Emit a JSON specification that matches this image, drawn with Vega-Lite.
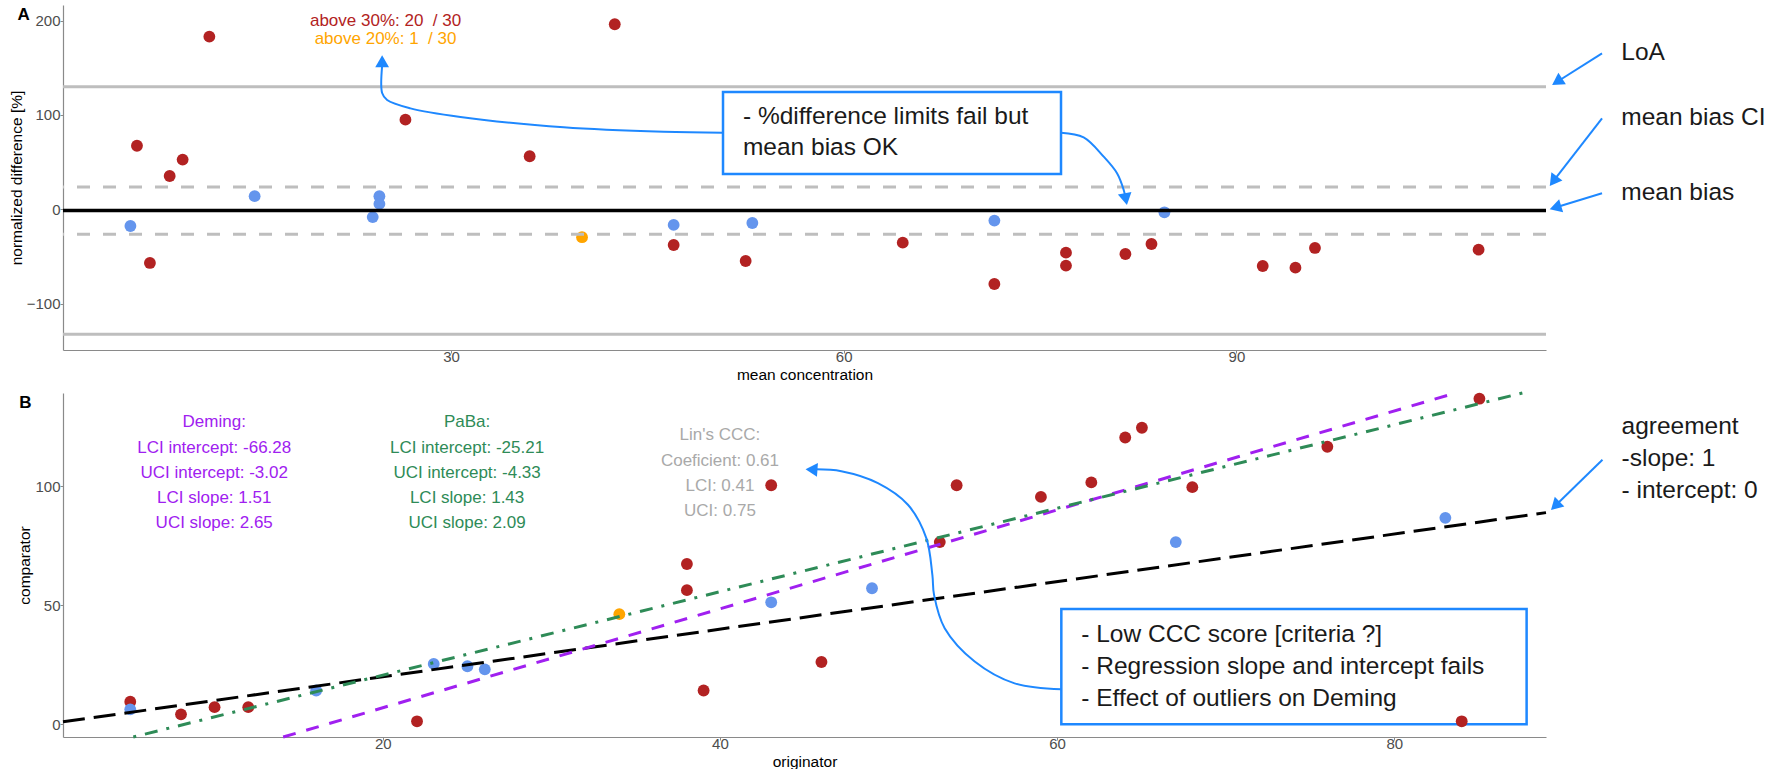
{
  "$schema": "https://vega.github.io/schema/vega-lite/v6.json",
  "padding": {"left": 9, "top": 5, "right": 5, "bottom": 0},
  "spacing": 4,
  "config": {
    "view": {"stroke": null},
    "font": "Liberation Sans",
    "axis": {"grid": false, "domainColor": "#8a8a8a", "domainWidth": 1.2, "tickColor": "#8a8a8a", "tickSize": 3, "labelColor": "#4D4D4D", "labelFont": "Liberation Sans", "labelFontSize": 15, "labelPadding": 0, "titleFont": "Liberation Sans", "titleFontSize": 15.5, "titleFontWeight": "normal", "titleColor": "#000000"},
    "axisY": {"titlePadding": 2},
    "axisX": {"titlePadding": 3, "labelPadding": -4}
  },
  "vconcat": [
    {
      "width": 1483,
      "height": 345,
      "layer": [
        {
          "data": {"values": [{"x": 50.78, "x2": 76.6, "y": 124.4, "y2": 37.4}]},
          "mark": {"type": "rect", "fill": "#ffffff", "stroke": "#1E88FF", "strokeWidth": 2.5},
          "encoding": {
            "x": {"field": "x", "type": "quantitative", "scale": {"domain": [0.36, 113.65], "nice": false, "zero": false}, "axis": {"values": [30, 60, 90], "title": "mean concentration"}},
            "x2": {"field": "x2"},
            "y": {"field": "y", "type": "quantitative", "scale": {"domain": [-149.2, 216.6], "nice": false, "zero": false}, "axis": {"values": [-100, 0, 100, 200], "title": "normalized difference [%]"}},
            "y2": {"field": "y2"}
          }
        },
        {
          "data": {"values": [
            {"x": 11.54, "y": 183.0, "grp": "above 30%"},
            {"x": 6.01, "y": 67.4, "grp": "above 30%"},
            {"x": 7.0, "y": -56.9, "grp": "above 30%"},
            {"x": 8.51, "y": 35.3, "grp": "above 30%"},
            {"x": 9.5, "y": 52.7, "grp": "above 30%"},
            {"x": 5.51, "y": -17.7, "grp": "within 20%"},
            {"x": 15.0, "y": 13.9, "grp": "within 20%"},
            {"x": 24.02, "y": -8.3, "grp": "within 20%"},
            {"x": 24.53, "y": 13.9, "grp": "within 20%"},
            {"x": 24.53, "y": 5.7, "grp": "within 20%"},
            {"x": 26.52, "y": 95.0, "grp": "above 30%"},
            {"x": 36.01, "y": 56.2, "grp": "above 30%"},
            {"x": 40.01, "y": -29.6, "grp": "above 20%"},
            {"x": 42.51, "y": 196.2, "grp": "above 30%"},
            {"x": 47.01, "y": -16.6, "grp": "within 20%"},
            {"x": 47.01, "y": -37.9, "grp": "above 30%"},
            {"x": 53.02, "y": -14.5, "grp": "within 20%"},
            {"x": 52.51, "y": -54.8, "grp": "above 30%"},
            {"x": 64.51, "y": -35.4, "grp": "above 30%"},
            {"x": 71.51, "y": -12.0, "grp": "within 20%"},
            {"x": 71.51, "y": -79.2, "grp": "above 30%"},
            {"x": 76.98, "y": -46.0, "grp": "above 30%"},
            {"x": 76.98, "y": -59.7, "grp": "above 30%"},
            {"x": 81.52, "y": -47.4, "grp": "above 30%"},
            {"x": 83.51, "y": -36.8, "grp": "above 30%"},
            {"x": 84.5, "y": -3.2, "grp": "within 20%"},
            {"x": 92.01, "y": -60.1, "grp": "above 30%"},
            {"x": 94.51, "y": -61.9, "grp": "above 30%"},
            {"x": 96.0, "y": -41.0, "grp": "above 30%"},
            {"x": 108.5, "y": -42.8, "grp": "above 30%"}
          ]},
          "mark": {"type": "circle", "size": 140, "opacity": 1},
          "encoding": {
            "x": {"field": "x", "type": "quantitative"},
            "y": {"field": "y", "type": "quantitative"},
            "color": {"field": "grp", "type": "nominal", "scale": {"domain": ["above 30%", "above 20%", "within 20%"], "range": ["#B22222", "#FFA500", "#6495ED"]}, "legend": null}
          }
        },
        {
          "data": {"values": [{"y": 130.0}, {"y": -132.6}]},
          "mark": {"type": "rule", "color": "#BEBEBE", "strokeWidth": 3},
          "encoding": {"y": {"field": "y", "type": "quantitative"}}
        },
        {
          "data": {"values": [{"y": 23.6}, {"y": -26.5}]},
          "mark": {"type": "rule", "color": "#BEBEBE", "strokeWidth": 3, "strokeDash": [13, 13]},
          "encoding": {"y": {"field": "y", "type": "quantitative"}}
        },
        {
          "data": {"values": [{"y": -1.3}]},
          "mark": {"type": "rule", "color": "#000000", "strokeWidth": 3.5},
          "encoding": {"y": {"field": "y", "type": "quantitative"}}
        },
        {
          "data": {"values": [
            {"arrow": "a1", "s": 1, "x": 50.78, "y": 81.2},
            {"arrow": "a1", "s": 2, "x": 46.25, "y": 82.2},
            {"arrow": "a1", "s": 3, "x": 38.61, "y": 87.0},
            {"arrow": "a1", "s": 4, "x": 30.72, "y": 97.9},
            {"arrow": "a1", "s": 5, "x": 26.9, "y": 107.0},
            {"arrow": "a1", "s": 6, "x": 25.12, "y": 115.8},
            {"arrow": "a1", "s": 7, "x": 24.74, "y": 123.3},
            {"arrow": "a1", "s": 8, "x": 24.74, "y": 152.0},
            {"arrow": "a2", "s": 1, "x": 76.6, "y": 81.2},
            {"arrow": "a2", "s": 2, "x": 78.33, "y": 76.3},
            {"arrow": "a2", "s": 3, "x": 79.86, "y": 55.8},
            {"arrow": "a2", "s": 4, "x": 80.88, "y": 38.2},
            {"arrow": "a2", "s": 5, "x": 81.39, "y": 20.5},
            {"arrow": "a2", "s": 6, "x": 81.5, "y": 14.0},
            {"arrow": "loa", "s": 1, "x": 117.93, "y": 165.4},
            {"arrow": "loa", "s": 2, "x": 114.5, "y": 135.2},
            {"arrow": "ci", "s": 1, "x": 117.93, "y": 96.5},
            {"arrow": "ci", "s": 2, "x": 114.21, "y": 29.8},
            {"arrow": "bias", "s": 1, "x": 117.93, "y": 17.0},
            {"arrow": "bias", "s": 2, "x": 114.37, "y": 1.9}
          ]},
          "mark": {"type": "line", "color": "#1E88FF", "strokeWidth": 2, "interpolate": "catmull-rom"},
          "encoding": {
            "x": {"field": "x", "type": "quantitative"},
            "y": {"field": "y", "type": "quantitative"},
            "detail": {"field": "arrow", "type": "nominal"},
            "order": {"field": "s", "type": "quantitative"}
          }
        },
        {
          "data": {"values": [
            {"x": 114.5, "y": 135.2, "heading": 237},
            {"x": 114.21, "y": 29.8, "heading": 217},
            {"x": 114.37, "y": 1.9, "heading": 253},
            {"x": 24.74, "y": 157.0, "heading": 0},
            {"x": 81.55, "y": 10.8, "heading": 169}
          ]},
          "mark": {"type": "point", "shape": "triangle-up", "filled": true, "size": 190, "color": "#1E88FF", "opacity": 1},
          "encoding": {
            "x": {"field": "x", "type": "quantitative"},
            "y": {"field": "y", "type": "quantitative"},
            "angle": {"field": "heading", "type": "quantitative", "scale": null}
          }
        },
        {
          "data": {"values": [{"x": 25, "y": 200, "t": "above 30%: 20\u00a0 / 30"}]},
          "mark": {"type": "text", "fontSize": 17, "color": "#B22222", "align": "center", "baseline": "middle"},
          "encoding": {"x": {"field": "x", "type": "quantitative"}, "y": {"field": "y", "type": "quantitative"}, "text": {"field": "t"}}
        },
        {
          "data": {"values": [{"x": 25, "y": 180.3, "t": "above 20%: 1\u00a0 / 30"}]},
          "mark": {"type": "text", "fontSize": 17, "color": "#FFA500", "align": "center", "baseline": "middle"},
          "encoding": {"x": {"field": "x", "type": "quantitative"}, "y": {"field": "y", "type": "quantitative"}, "text": {"field": "t"}}
        },
        {
          "data": {"values": [
            {"x": 52.3, "y": 98.2, "t": "- %difference limits fail but"},
            {"x": 52.3, "y": 64.7, "t": "mean bias OK"},
            {"x": 119.4, "y": 165.4, "t": "LoA"},
            {"x": 119.4, "y": 96.5, "t": "mean bias CI"},
            {"x": 119.4, "y": 17.0, "t": "mean bias"}
          ]},
          "mark": {"type": "text", "fontSize": 24.5, "color": "#1a1a1a", "align": "left", "baseline": "middle"},
          "encoding": {"x": {"field": "x", "type": "quantitative"}, "y": {"field": "y", "type": "quantitative"}, "text": {"field": "t"}}
        },
        {
          "data": {"values": [{"x": -2.64, "y": 206, "t": "A"}]},
          "mark": {"type": "text", "fontSize": 17, "fontWeight": "bold", "color": "#000000", "align": "center", "baseline": "middle"},
          "encoding": {"x": {"field": "x", "type": "quantitative"}, "y": {"field": "y", "type": "quantitative"}, "text": {"field": "t"}}
        }
      ]
    },
    {
      "width": 1483,
      "height": 344,
      "layer": [
        {
          "data": {"values": [{"x": 60.25, "x2": 87.85, "y": 48.5, "y2": 0}]},
          "mark": {"type": "rect", "fill": "#ffffff", "stroke": "#1E88FF", "strokeWidth": 2.5},
          "encoding": {
            "x": {"field": "x", "type": "quantitative", "scale": {"domain": [1.03, 89.0], "nice": false, "zero": false}, "axis": {"values": [20, 40, 60, 80], "title": "originator"}},
            "x2": {"field": "x2"},
            "y": {"field": "y", "type": "quantitative", "scale": {"domain": [-5.34, 139.3], "nice": false, "zero": false}, "axis": {"values": [0, 50, 100], "title": "comparator"}},
            "y2": {"field": "y2"}
          }
        },
        {
          "data": {"values": [
            {"x": 5.02, "y": 9.5, "grp": "above 30%"},
            {"x": 5.02, "y": 6.3, "grp": "within 20%"},
            {"x": 8.03, "y": 4.2, "grp": "above 30%"},
            {"x": 10.02, "y": 7.2, "grp": "above 30%"},
            {"x": 12.02, "y": 7.2, "grp": "above 30%"},
            {"x": 16.05, "y": 14.2, "grp": "within 20%"},
            {"x": 22.03, "y": 1.26, "grp": "above 30%"},
            {"x": 23.02, "y": 25.4, "grp": "within 20%"},
            {"x": 25.02, "y": 24.4, "grp": "within 20%"},
            {"x": 26.05, "y": 23.1, "grp": "within 20%"},
            {"x": 34.03, "y": 46.3, "grp": "above 20%"},
            {"x": 38.04, "y": 67.4, "grp": "above 30%"},
            {"x": 38.04, "y": 56.4, "grp": "above 30%"},
            {"x": 39.03, "y": 14.2, "grp": "above 30%"},
            {"x": 43.04, "y": 100.5, "grp": "above 30%"},
            {"x": 43.04, "y": 51.3, "grp": "within 20%"},
            {"x": 46.02, "y": 26.2, "grp": "above 30%"},
            {"x": 49.02, "y": 57.2, "grp": "within 20%"},
            {"x": 53.04, "y": 76.6, "grp": "above 30%"},
            {"x": 54.04, "y": 100.5, "grp": "above 30%"},
            {"x": 59.04, "y": 95.6, "grp": "above 30%"},
            {"x": 62.03, "y": 101.7, "grp": "above 30%"},
            {"x": 64.04, "y": 120.6, "grp": "above 30%"},
            {"x": 65.03, "y": 124.7, "grp": "above 30%"},
            {"x": 68.02, "y": 99.7, "grp": "above 30%"},
            {"x": 67.04, "y": 76.6, "grp": "within 20%"},
            {"x": 76.03, "y": 116.7, "grp": "above 30%"},
            {"x": 83.03, "y": 86.8, "grp": "within 20%"},
            {"x": 85.05, "y": 136.9, "grp": "above 30%"},
            {"x": 84.0, "y": 1.26, "grp": "above 30%"}
          ]},
          "mark": {"type": "circle", "size": 140, "opacity": 1},
          "encoding": {
            "x": {"field": "x", "type": "quantitative"},
            "y": {"field": "y", "type": "quantitative"},
            "color": {"field": "grp", "type": "nominal", "scale": {"domain": ["above 30%", "above 20%", "within 20%"], "range": ["#B22222", "#FFA500", "#6495ED"]}, "legend": null}
          }
        },
        {
          "data": {"values": [{"x": 1.03, "y": 1.03}, {"x": 89.0, "y": 89.0}]},
          "mark": {"type": "line", "color": "#000000", "strokeWidth": 3, "strokeDash": [22, 9]},
          "encoding": {"x": {"field": "x", "type": "quantitative"}, "y": {"field": "y", "type": "quantitative"}}
        },
        {
          "data": {"values": [{"x": 14.09, "y": -5.34}, {"x": 83.63, "y": 139.3}]},
          "mark": {"type": "line", "color": "#A020F0", "strokeWidth": 3, "strokeDash": [13, 11]},
          "encoding": {"x": {"field": "x", "type": "quantitative"}, "y": {"field": "y", "type": "quantitative"}}
        },
        {
          "data": {"values": [{"x": 5.2, "y": -5.34}, {"x": 87.6, "y": 139.3}]},
          "mark": {"type": "line", "color": "#2E8B57", "strokeWidth": 3, "strokeDash": [3, 9, 13, 9]},
          "encoding": {"x": {"field": "x", "type": "quantitative"}, "y": {"field": "y", "type": "quantitative"}}
        },
        {
          "data": {"values": [
            {"arrow": "b1", "s": 1, "x": 60.25, "y": 14.7},
            {"arrow": "b1", "s": 2, "x": 57.48, "y": 17.2},
            {"arrow": "b1", "s": 3, "x": 55.11, "y": 26.4},
            {"arrow": "b1", "s": 4, "x": 53.33, "y": 40.4},
            {"arrow": "b1", "s": 5, "x": 52.7, "y": 54.4},
            {"arrow": "b1", "s": 6, "x": 52.6, "y": 62.8},
            {"arrow": "b1", "s": 7, "x": 52.24, "y": 78.3},
            {"arrow": "b1", "s": 8, "x": 51.15, "y": 92.3},
            {"arrow": "b1", "s": 9, "x": 49.37, "y": 101.4},
            {"arrow": "b1", "s": 10, "x": 47.2, "y": 106.4},
            {"arrow": "b1", "s": 11, "x": 45.7, "y": 107.2},
            {"arrow": "agr", "s": 1, "x": 92.35, "y": 111.2},
            {"arrow": "agr", "s": 2, "x": 89.55, "y": 91.9}
          ]},
          "mark": {"type": "line", "color": "#1E88FF", "strokeWidth": 2, "interpolate": "catmull-rom"},
          "encoding": {
            "x": {"field": "x", "type": "quantitative"},
            "y": {"field": "y", "type": "quantitative"},
            "detail": {"field": "arrow", "type": "nominal"},
            "order": {"field": "s", "type": "quantitative"}
          }
        },
        {
          "data": {"values": [
            {"x": 89.55, "y": 91.9, "heading": 226},
            {"x": 45.43, "y": 107.1, "heading": 274}
          ]},
          "mark": {"type": "point", "shape": "triangle-up", "filled": true, "size": 190, "color": "#1E88FF", "opacity": 1},
          "encoding": {
            "x": {"field": "x", "type": "quantitative"},
            "y": {"field": "y", "type": "quantitative"},
            "angle": {"field": "heading", "type": "quantitative", "scale": null}
          }
        },
        {
          "data": {"values": [
            {"x": 10, "y": 126.9, "t": "Deming:"},
            {"x": 10, "y": 116.1, "t": "LCI intercept: -66.28"},
            {"x": 10, "y": 105.6, "t": "UCI intercept: -3.02"},
            {"x": 10, "y": 95.1, "t": "LCI slope: 1.51"},
            {"x": 10, "y": 84.6, "t": "UCI slope: 2.65"}
          ]},
          "mark": {"type": "text", "fontSize": 17, "color": "#A020F0", "align": "center", "baseline": "middle"},
          "encoding": {"x": {"field": "x", "type": "quantitative"}, "y": {"field": "y", "type": "quantitative"}, "text": {"field": "t"}}
        },
        {
          "data": {"values": [
            {"x": 25, "y": 126.9, "t": "PaBa:"},
            {"x": 25, "y": 116.1, "t": "LCI intercept: -25.21"},
            {"x": 25, "y": 105.6, "t": "UCI intercept: -4.33"},
            {"x": 25, "y": 95.1, "t": "LCI slope: 1.43"},
            {"x": 25, "y": 84.6, "t": "UCI slope: 2.09"}
          ]},
          "mark": {"type": "text", "fontSize": 17, "color": "#2E8B57", "align": "center", "baseline": "middle"},
          "encoding": {"x": {"field": "x", "type": "quantitative"}, "y": {"field": "y", "type": "quantitative"}, "text": {"field": "t"}}
        },
        {
          "data": {"values": [
            {"x": 40, "y": 121.7, "t": "Lin's CCC:"},
            {"x": 40, "y": 110.9, "t": "Coeficient: 0.61"},
            {"x": 40, "y": 100.3, "t": "LCI: 0.41"},
            {"x": 40, "y": 89.7, "t": "UCI: 0.75"}
          ]},
          "mark": {"type": "text", "fontSize": 17, "color": "#A9A9A9", "align": "center", "baseline": "middle"},
          "encoding": {"x": {"field": "x", "type": "quantitative"}, "y": {"field": "y", "type": "quantitative"}, "text": {"field": "t"}}
        },
        {
          "data": {"values": [
            {"x": 61.43, "y": 37.6, "t": "- Low CCC score [criteria ?]"},
            {"x": 61.43, "y": 23.9, "t": "- Regression slope and intercept fails"},
            {"x": 61.43, "y": 10.7, "t": "- Effect of outliers on Deming"},
            {"x": 93.48, "y": 124.8, "t": "agreement"},
            {"x": 93.48, "y": 111.5, "t": "-slope: 1"},
            {"x": 93.48, "y": 98.2, "t": "- intercept: 0"}
          ]},
          "mark": {"type": "text", "fontSize": 24.5, "color": "#1a1a1a", "align": "left", "baseline": "middle"},
          "encoding": {"x": {"field": "x", "type": "quantitative"}, "y": {"field": "y", "type": "quantitative"}, "text": {"field": "t"}}
        },
        {
          "data": {"values": [{"x": -1.2, "y": 135.3, "t": "B"}]},
          "mark": {"type": "text", "fontSize": 17, "fontWeight": "bold", "color": "#000000", "align": "center", "baseline": "middle"},
          "encoding": {"x": {"field": "x", "type": "quantitative"}, "y": {"field": "y", "type": "quantitative"}, "text": {"field": "t"}}
        }
      ]
    }
  ]
}
